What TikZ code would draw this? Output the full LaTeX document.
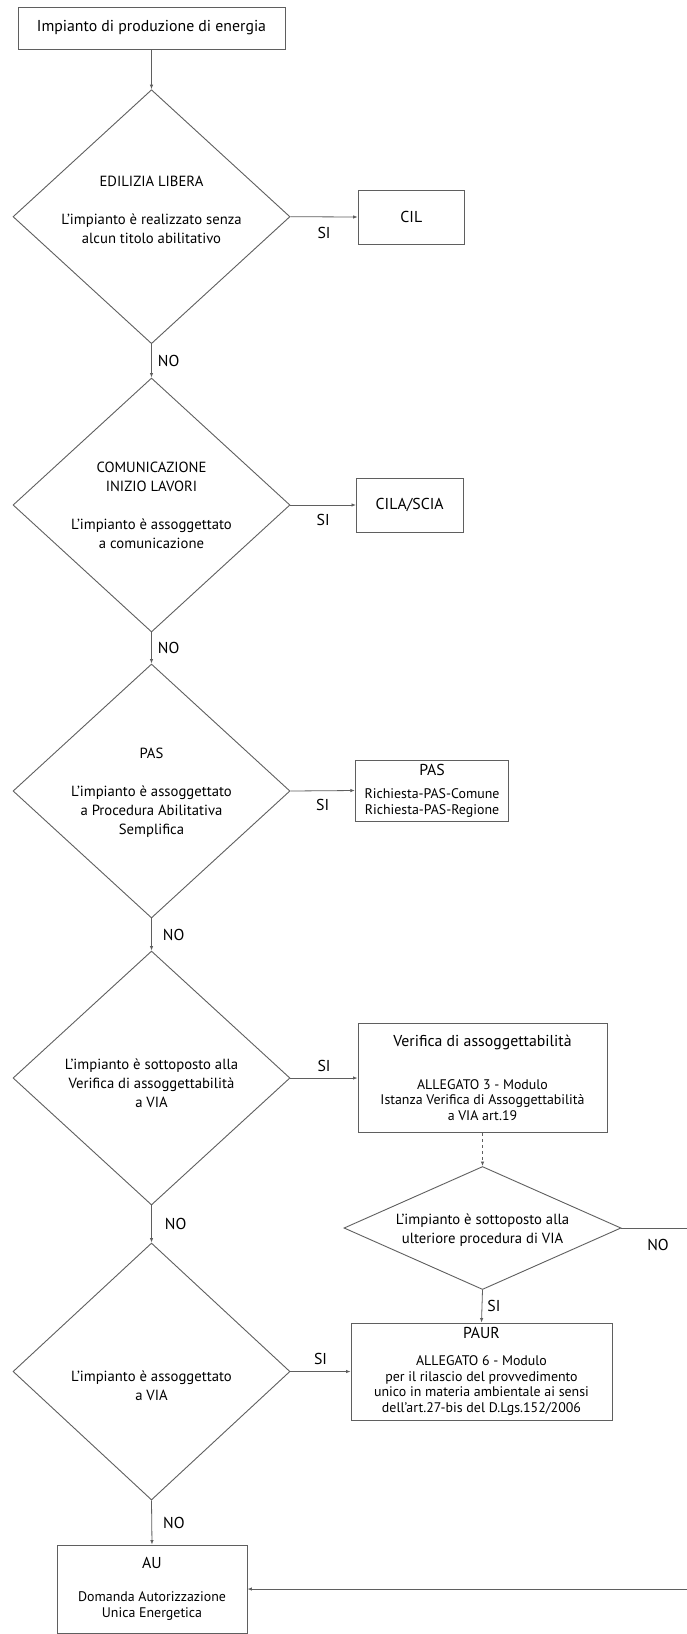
\documentclass[tikz,border=0pt]{standalone}
\usepackage{fontspec}
\setmainfont{PT Sans}
\usetikzlibrary{shapes.geometric, arrows.meta, positioning, calc}
\definecolor{linegray}{RGB}{95,95,95}
\newcommand{\titletxt}{\fontsize{15.8}{19}\selectfont}
\newcommand{\bigtxt}{\fontsize{14.7}{19}\selectfont}
\newcommand{\smalltxt}{\fontsize{13.9}{15.7}\selectfont}

\tikzset{
    boxnode/.style={draw=linegray, line width=0.9pt, rectangle, inner sep=0pt, align=center, font=\titletxt},
    decision/.style={draw=linegray, line width=0.9pt, diamond, inner sep=0pt, minimum width=277pt, minimum height=254pt},
    dectext/.style={align=center, font=\bigtxt, inner sep=0pt},
    flow/.style={draw=linegray, line width=0.8pt, -{Latex[length=4.5pt,width=3.5pt]}},
    answer/.style={font=\titletxt, inner sep=0pt}
}

\begin{document}
\begin{tikzpicture}[x=1pt, y=-1pt]
    \path[use as bounding box, fill=white] (0,0) rectangle (686,1634);

    % main column
    \node[boxnode, minimum width=267pt, minimum height=42pt] (start) at (151.5,28) {Impianto di produzione di energia};
    \node[decision] (d1) at (151.5,216.7) {};
    \node[dectext, yshift=7pt] (d1txt) at (d1.center) {EDILIZIA LIBERA\\[19pt]L'impianto è realizzato senza\\alcun titolo abilitativo};
    \node[decision] (d2) at (151.5,505) {};
    \node[dectext] (d2txt) at (d2.center) {COMUNICAZIONE\\INIZIO LAVORI\\[19pt]L'impianto è assoggettato\\a comunicazione};
    \node[decision] (d3) at (151.5,791) {};
    \node[dectext, yshift=-2pt] (d3txt) at (d3.center) {PAS\\[19pt]L'impianto è assoggettato\\a Procedura Abilitativa\\Semplifica};
    \node[decision] (d4) at (151.5,1078) {};
    \node[dectext, yshift=-5pt] (d4txt) at (d4.center) {L'impianto è sottoposto alla\\Verifica di assoggettabilità\\a VIA};
    \node[decision, minimum height=257pt] (d5) at (151.5,1371.5) {};
    \node[dectext, yshift=-14pt] (d5txt) at (d5.center) {L'impianto è assoggettato\\a VIA};
    \node[boxnode, minimum width=190pt, minimum height=88pt, font=\smalltxt] (au) at (152,1589) {{\titletxt AU}\\[17pt]Domanda Autorizzazione\\Unica Energetica};

    % right column
    \node[boxnode, minimum width=106.5pt, minimum height=54pt] (cil) at (411.3,217) {CIL};
    \node[boxnode, minimum width=106.5pt, minimum height=54pt] (cila) at (409.7,505) {CILA/SCIA};
    \node[boxnode, minimum width=153.5pt, minimum height=61pt, font=\smalltxt] (pas) at (432,790.5) {{\titletxt PAS}\\[7.5pt]Richiesta-PAS-Comune\\Richiesta-PAS-Regione};
    \node[boxnode, minimum width=249pt, minimum height=109.5pt, font=\smalltxt] (ver) at (482.5,1078) {{\titletxt Verifica di assoggettabilità}\\[27pt]ALLEGATO 3 - Modulo\\Istanza Verifica di Assoggettabilità\\a VIA art.19};
    \node[decision, minimum height=123pt] (d6) at (482.5,1228) {};
    \node[dectext, yshift=-2pt] (d6txt) at (d6.center) {L'impianto è sottoposto alla\\ulteriore procedura di VIA};
    \node[boxnode, minimum width=261pt, minimum height=97pt, font=\smalltxt] (paur) at (481.5,1371.5) {{\titletxt PAUR}\\[11pt]ALLEGATO 6 - Modulo\\per il rilascio del provvedimento\\unico in materia ambientale ai sensi\\dell’art.27-bis del D.Lgs.152/2006};
    \coordinate (rim) at (688,1228);

    % connectors
    \draw[flow] (start) -- (d1);
    \draw[flow] (d1.south) -- node[answer, right=6pt] {NO} (d2.north);
    \draw[flow] (d2.south) -- node[answer, right=6pt] {NO} (d3.north);
    \draw[flow] (d3.south) -- node[answer, right=11pt] {NO} (d4.north);
    \draw[flow] (d4.south) -- node[answer, right=13pt] {NO} (d5.north);
    \draw[flow] (d5.south) -- node[answer, right=11pt] {NO} (au.north);
    \draw[flow] (d1.east) -- node[answer, below=10pt] {SI} (cil.west);
    \draw[flow] (d2.east) -- node[answer, below=9pt] {SI} (cila.west);
    \draw[flow] (d3.east) -- node[answer, below=8pt] {SI} (pas.west);
    \draw[flow] (d4.east) -- node[answer, above=6pt] {SI} (ver.west);
    \draw[flow] (d5.east) -- node[answer, above=6pt] {SI} (paur.west);
    \draw[flow, dashed] (ver.south) -- (d6.north);
    \draw[flow] (d6.south) -- node[answer, right=5pt] {SI} (paur.north);
    \draw[flow] (d6.east) -- node[answer, below=11pt, pos=0.55] {NO} (rim) |- (au.east);
\end{tikzpicture}
\end{document}
